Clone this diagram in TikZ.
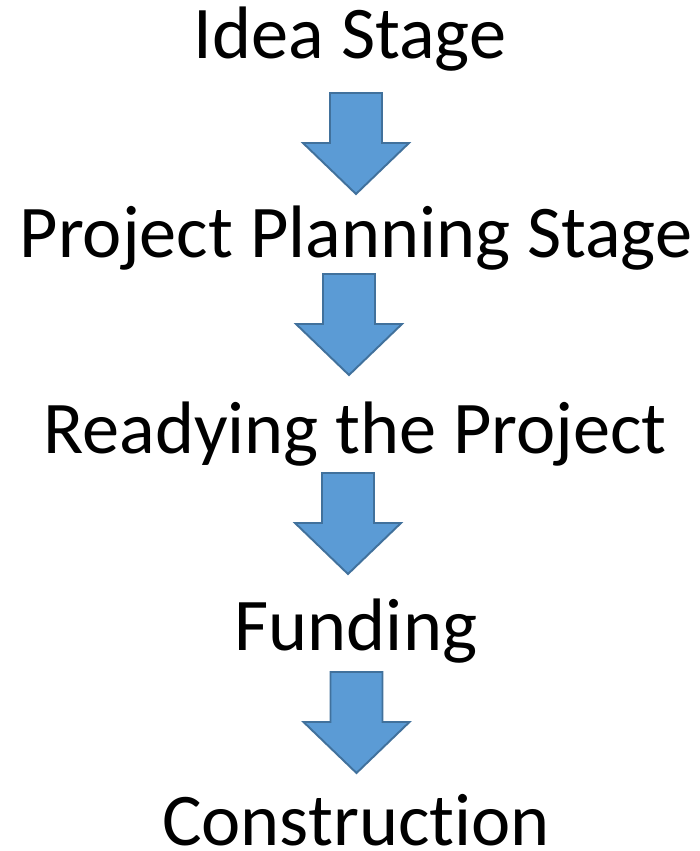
\documentclass[tikz,border=0pt]{standalone}
\usepackage{fontspec}
\setmainfont{Carlito}[Ligatures=NoCommon]
\usepackage{tikz}
\definecolor{arrowfill}{HTML}{5B9BD5}
\definecolor{arrowline}{HTML}{41719C}
\tikzset{
    stage/.style={anchor=base, inner sep=0pt, font=\fontsize{42.3}{50}\selectfont},
    blockarrow/.style={fill=arrowfill, draw=arrowline, line width=1.1pt, line join=miter}
}

\begin{document}
\begin{tikzpicture}
        \useasboundingbox (0,0) rectangle (14,-17.02);

        % Etapes
        \node[stage] (idea) at (7.0,-1.16) {Idea Stage};
        \node[stage] (plan) at (7.12,-5.14) {Project Planning Stage};
        \node[stage] (ready) at (7.1,-9.06) {Readying the Project};
        \node[stage] (fund) at (7.12,-13.0) {Funding};
        \node[stage] (cons) at (7.12,-16.9) {Construction};

        % Points de depart des fleches
        \coordinate (a1) at (7.12,-1.86);
        \coordinate (a2) at (6.98,-5.48);
        \coordinate (a3) at (6.96,-9.46);
        \coordinate (a4) at (7.13,-13.44);

        % Fleches bleues
        \foreach \a in {a1,a2,a3,a4}
            \draw[blockarrow] (\a) ++(-0.52,0) -- ++(1.04,0) -- ++(0,-1.0) -- ++(0.54,0)
                -- ++(-1.06,-1.02) -- ++(-1.06,1.02) -- ++(0.54,0) -- cycle;

    \end{tikzpicture}
\end{document}
